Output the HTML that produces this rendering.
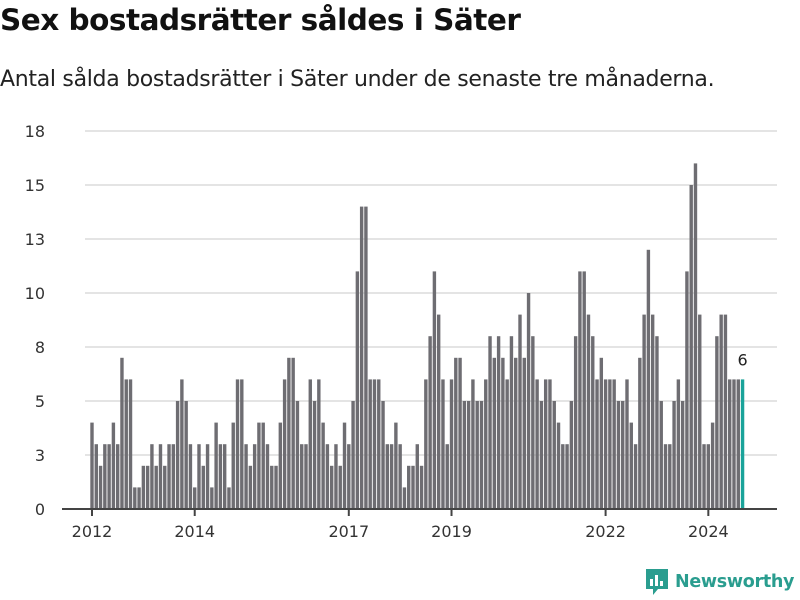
<!DOCTYPE html>
<html><head><meta charset="utf-8">
<style>
body{margin:0;width:800px;height:600px;background:#fff;font-family:"Liberation Sans","DejaVu Sans",sans-serif;overflow:hidden;position:relative}
h1{position:absolute;left:0;top:3px;margin:0;font-size:29.5px;font-weight:bold;color:#111;font-family:"DejaVu Sans","Liberation Sans",sans-serif;letter-spacing:-0.5px}
.sub{position:absolute;left:0;top:67px;font-size:22px;color:#222;font-family:"DejaVu Sans","Liberation Sans",sans-serif;letter-spacing:-0.3px}
.logo{position:absolute;left:645px;top:568px;display:flex;align-items:center;gap:6px;color:#2a9d8f;font-weight:bold;font-size:17.5px;font-family:"DejaVu Sans","Liberation Sans",sans-serif;letter-spacing:-0.3px}
</style></head><body>
<h1>Sex bostadsrätter såldes i Säter</h1>
<div class="sub">Antal sålda bostadsrätter i Säter under de senaste tre månaderna.</div>
<svg id="chart" width="800" height="600" style="position:absolute;left:0;top:0"></svg>
<div class="logo">
<svg width="24" height="28" viewBox="0 0 24 28"><path d="M1 1h22v20H13l-5 6v-6H1z" fill="#2a9d8f"/><rect x="5" y="11" width="3" height="7" fill="#fff"/><rect x="10" y="7" width="3" height="11" fill="#fff"/><rect x="15" y="13" width="3" height="5" fill="#fff"/></svg>
<span>Newsworthy</span></div>
<script>
const values=[4,3,2,3,3,4,3,7,6,6,1,1,2,2,3,2,3,2,3,3,5,6,5,3,1,3,2,3,1,4,
3,3,1,4,6,6,3,2,3,4,4,3,2,2,4,6,7,7,5,3,3,6,5,6,4,3,2,3,2,4,
3,5,11,14,14,6,6,6,5,3,3,4,3,1,2,2,3,2,6,8,11,9,6,3,6,7,7,5,5,6,
5,5,6,8,7,8,7,6,8,7,9,7,10,8,6,5,6,6,5,4,3,3,5,8,11,11,9,8,6,7,
6,6,6,5,5,6,4,3,7,9,12,9,8,5,3,3,5,6,5,11,15,16,9,3,3,4,8,9,9,6,6,6,6];
const tickValues=[0,2.5,5,7.5,10,12.5,15,17.5];
const tickLabels=["0","3","5","8","10","13","15","18"];
const yearLabels=["2012","2014","2017","2019","2022","2024"];
const yearIndex=[0,24,60,84,120,144];
const NS="http://www.w3.org/2000/svg";
const svg=document.getElementById('chart');
const x0=92,step=4.28,y0=509,unit=21.6;
const xs=i=>x0+step*i;
const ys=v=>y0-v*unit;
function mk(t,a){const e=document.createElementNS(NS,t);for(const k in a)e.setAttribute(k,a[k]);svg.appendChild(e);return e;}
tickValues.forEach((v,i)=>{
  if(v>0){const g=mk('line',{x1:85,x2:777,y1:ys(v),y2:ys(v),stroke:'#dcdcdc','stroke-width':1.5});
  
  }
  const t=mk('text',{x:45,y:ys(v)+6,'text-anchor':'end','font-size':16,fill:'#333','font-family':'DejaVu Sans, Liberation Sans, sans-serif'});
  t.textContent=tickLabels[i];
  
  
});
values.forEach((v,i)=>{
  const last=i===values.length-1;
  const r=mk('rect',{x:xs(i)-1.7,y:ys(v),width:3.4,height:v*unit,fill:last?'#1aa39a':'#6e6d72'});
  
  
});
const lv=values[values.length-1];
const lab=mk('text',{x:xs(values.length-1),y:ys(lv)-14,'text-anchor':'middle','font-size':16,fill:'#222','font-family':'DejaVu Sans, Liberation Sans, sans-serif'});
lab.textContent=String(lv);


const ax=mk('line',{x1:62,x2:777,y1:y0,y2:y0,stroke:'#444','stroke-width':2});


yearIndex.forEach((idx,i)=>{
  const tk=mk('line',{x1:xs(idx),x2:xs(idx),y1:y0,y2:y0+7,stroke:'#444','stroke-width':2});
  
  
  const t=mk('text',{x:xs(idx),y:537,'text-anchor':'middle','font-size':16,fill:'#333','font-family':'DejaVu Sans, Liberation Sans, sans-serif'});
  t.textContent=yearLabels[i];
  
  
});
</script>
</body></html>
